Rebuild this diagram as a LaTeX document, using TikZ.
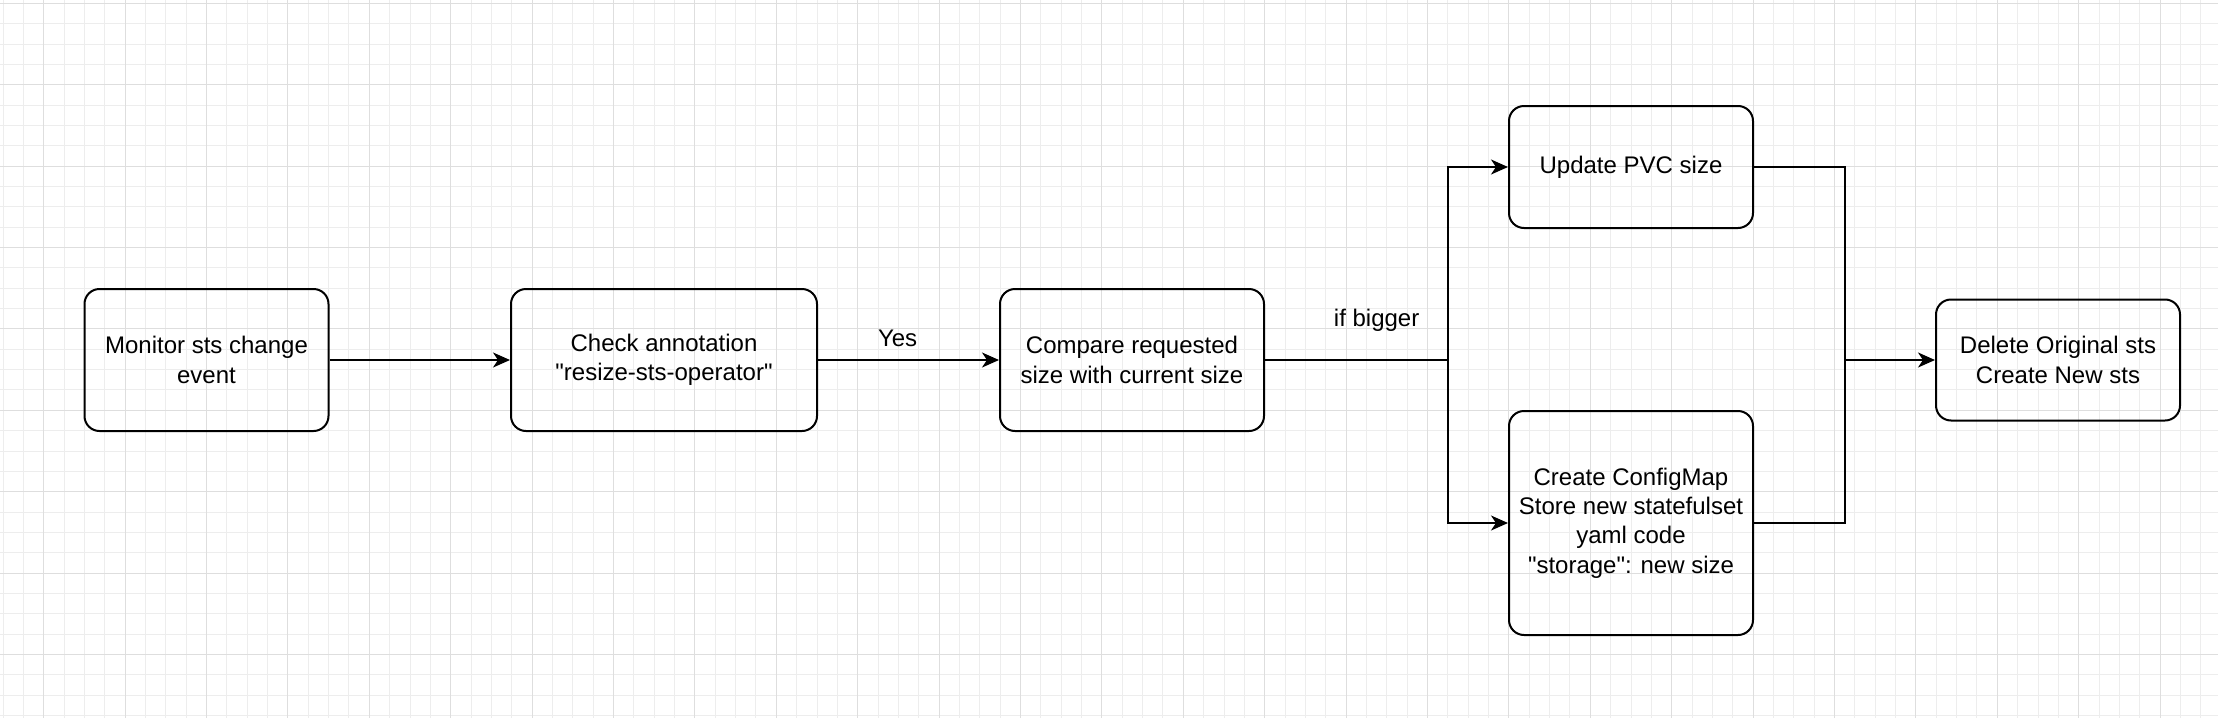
\documentclass[tikz,border=0pt]{standalone}
\usepackage{fontspec}
\setmainfont{Liberation Sans}
\usetikzlibrary{arrows.meta}
\newcommand{\bw}{122pt}
\newcommand{\bh}{71pt}

\begin{document}
\begin{tikzpicture}[x=0.5pt, y=-0.5pt,
    box/.style={draw, rectangle, rounded corners=7.5pt, minimum width=\bw, minimum height=\bh, align=center, inner sep=0pt, line width=1pt, font=\fontsize{12pt}{14.6pt}\selectfont},
    link/.style={line width=1pt},
    arr/.style={link, -{Stealth[length=8.5pt, width=7.5pt, inset=2.5pt]}},
    minorgrid/.style={draw=black!7, line width=0.5pt},
    majorgrid/.style={draw=black!13, line width=0.5pt}]

    % Background grid
    \fill[white] (0,0) rectangle (2218,718);
    \useasboundingbox (0,0) rectangle (2218,718);
    \foreach \i in {0,...,108} \draw[minorgrid] (3+\i*20.35,0) -- (3+\i*20.35,718);
    \foreach \i in {0,...,35} \draw[minorgrid] (0,3.3+\i*20.35) -- (2218,3.3+\i*20.35);
    \foreach \i in {0,...,26} \draw[majorgrid] (43.7+\i*81.4,0) -- (43.7+\i*81.4,718);
    \foreach \i in {0,...,8} \draw[majorgrid] (0,3.3+\i*81.4) -- (2218,3.3+\i*81.4);

    % Main row
    \node[box] (monitor) at (206.5,360) {Monitor sts change\\event};
    \node[box, minimum width=153pt] (check) at (664,360) {Check annotation\\\textquotedbl resize-sts-operator\textquotedbl};
    \node[box, minimum width=132pt] (compare) at (1132,360) {Compare requested\\size with current size};

    % Branches
    \node[box, minimum height=61pt] (pvc) at (1631,167) {Update PVC size};
    \node[box, minimum height=112pt] (configmap) at (1631,523) {Create ConfigMap\\Store new statefulset\\yaml code\\\textquotedbl storage\textquotedbl: new size};
    \node[box, minimum height=60.5pt] (recreate) at (2058,360) {Delete Original sts\\Create New sts};

    \coordinate (split) at (1448,360);
    \coordinate (join) at (1845,360);

    % Connectors
    \draw[arr] (monitor) -- (check);
    \draw[arr] (check) -- node[pos=0.44, above=3pt, font=\fontsize{12pt}{14.6pt}\selectfont] {Yes} (compare);
    \draw[link] (compare) -- node[pos=0.61, above=10.5pt, font=\fontsize{12pt}{14.6pt}\selectfont] {if bigger} (split);
    \draw[arr] (split) |- (pvc);
    \draw[arr] (split) |- (configmap);
    \draw[link] (pvc) -| (join);
    \draw[link] (configmap) -| (join);
    \draw[arr] (join) -- (recreate);

\end{tikzpicture}
\end{document}
